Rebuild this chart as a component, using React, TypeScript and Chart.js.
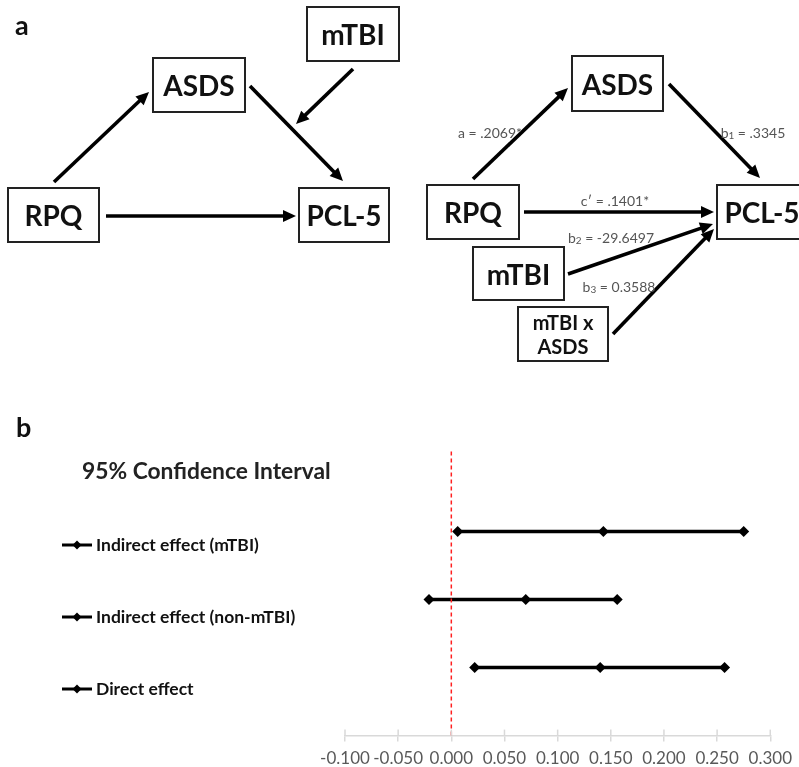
import React, { useEffect, useRef } from 'react';
import { Chart, registerables } from 'chart.js';

Chart.register(...registerables);

// ---- Panel b data ----
const categories = ['Indirect effect (mTBI)', 'Indirect effect (non-mTBI)', 'Direct effect'];
const rowPositions = [3, 2, 1];
const lowerCI = [0.006, -0.021, 0.022];
const pointEstimate = [0.143, 0.07, 0.14];
const upperCI = [0.275, 0.156, 0.257];
const xTicks = [-0.1, -0.05, 0, 0.05, 0.1, 0.15, 0.2, 0.25, 0.3];
const referenceX = 0;
const chartTitle = '95% Confidence Interval';

// ---- Panel a text ----
const pathLabels = ['a = .2069*', ' = .3345', 'c\u2032 = .1401*', ' = -29.6497', ' = 0.3588'];

const FONT = 'Lato, "Open Sans", "DejaVu Sans", sans-serif';

type Pt = [number, number];

function Arrow({ from, to }: { from: Pt; to: Pt }) {
  const dx = to[0] - from[0];
  const dy = to[1] - from[1];
  const len = Math.hypot(dx, dy);
  const ux = dx / len;
  const uy = dy / len;
  const head = 13;
  const half = 6;
  const bx = to[0] - ux * head;
  const by = to[1] - uy * head;
  const px = -uy;
  const py = ux;
  const pts = `${to[0]},${to[1]} ${bx + px * half},${by + py * half} ${bx - px * half},${by - py * half}`;
  return (
    <g>
      <line x1={from[0]} y1={from[1]} x2={bx + ux * 2} y2={by + uy * 2} stroke="#000" strokeWidth={3.6} />
      <polygon points={pts} fill="#000" />
    </g>
  );
}

function Box({ x, y, w, h, lines, size }: { x: number; y: number; w: number; h: number; lines: string[]; size: number }) {
  const cx = x + w / 2;
  const cy = y + h / 2;
  const lh = size * 1.2;
  return (
    <g>
      <rect x={x} y={y} width={w} height={h} fill="#fff" stroke="#222" strokeWidth={2} />
      {lines.map((t, i) => (
        <text
          key={i}
          x={cx}
          y={cy + (i - (lines.length - 1) / 2) * lh}
          textAnchor="middle"
          dominantBaseline="central"
          fontFamily={FONT}
          fontWeight="bold"
          fontSize={size}
          fill="#111"
        >
          {t}
        </text>
      ))}
    </g>
  );
}

function Label({ x, y, main, sub }: { x: number; y: number; main: string; sub?: string }) {
  return (
    <text x={x} y={y} textAnchor="middle" dominantBaseline="central" fontFamily={FONT} fontSize={14} fill="#555">
      {sub ? (
        <>
          <tspan>b</tspan>
          <tspan dy={3} fontSize={10}>{sub}</tspan>
          <tspan dy={-3}>{main}</tspan>
        </>
      ) : (
        main
      )}
    </text>
  );
}

function Diagram() {
  return (
    <svg width={799} height={767} style={{ position: 'absolute', left: 0, top: 0, pointerEvents: 'none' }}>
      <text x={15} y={35} fontFamily={FONT} fontWeight="bold" fontSize={27} fill="#111">a</text>
      <text x={16} y={437} fontFamily={FONT} fontWeight="bold" fontSize={27} fill="#111">b</text>

      {/* left diagram */}
      <Box x={307} y={7} w={92} h={54} lines={['mTBI']} size={28} />
      <Box x={153} y={58} w={92} h={54} lines={['ASDS']} size={28} />
      <Box x={8} y={188} w={91} h={54} lines={['RPQ']} size={28} />
      <Box x={299} y={188} w={90} h={54} lines={['PCL-5']} size={28} />
      <Arrow from={[54, 182]} to={[149, 92]} />
      <Arrow from={[250, 86]} to={[343, 181]} />
      <Arrow from={[353, 69]} to={[296, 124]} />
      <Arrow from={[106, 216]} to={[296, 216]} />

      {/* right diagram */}
      <Box x={572} y={56} w={91} h={55} lines={['ASDS']} size={28} />
      <Box x={427} y={185} w={92} h={54} lines={['RPQ']} size={28} />
      <Box x={717} y={185} w={90} h={54} lines={['PCL-5']} size={28} />
      <Box x={473} y={247} w={91} h={53} lines={['mTBI']} size={28} />
      <Box x={518} y={307} w={90} h={54} lines={['mTBI x', 'ASDS']} size={20} />
      <Arrow from={[473, 179]} to={[568, 88]} />
      <Arrow from={[669, 84]} to={[760, 178]} />
      <Arrow from={[524, 212]} to={[714, 212]} />
      <Arrow from={[568, 274]} to={[713, 224]} />
      <Arrow from={[613, 334]} to={[714, 229]} />

      <Label x={490} y={132} main={pathLabels[0]} />
      <Label x={753} y={132} main={pathLabels[1]} sub="1" />
      <Label x={615} y={200} main={pathLabels[2]} />
      <Label x={611} y={237} main={pathLabels[3]} sub="2" />
      <Label x={619} y={286} main={pathLabels[4]} sub="3" />
    </svg>
  );
}

const decorPlugin = {
  id: 'decor',
  afterDraw(chart: any) {
    const { ctx, chartArea } = chart;
    const xs = chart.scales.x;
    ctx.save();
    // upper half of tick marks crossing the axis line
    ctx.strokeStyle = '#d9d9d9';
    ctx.lineWidth = 1.5;
    xs.ticks.forEach((t: any) => {
      const px = xs.getPixelForValue(t.value);
      ctx.beginPath();
      ctx.moveTo(px, chartArea.bottom - 6);
      ctx.lineTo(px, chartArea.bottom);
      ctx.stroke();
    });
    // title
    ctx.fillStyle = '#222';
    ctx.font = `bold 22.8px ${FONT}`;
    ctx.textBaseline = 'middle';
    ctx.textAlign = 'left';
    ctx.fillText(chartTitle, 82, 472);
    // legend
    const datasets = chart.data.datasets.filter((d: any) => d.isSeries);
    datasets.forEach((d: any, i: number) => {
      const y = 545 + i * 72;
      ctx.strokeStyle = '#000';
      ctx.lineWidth = 3;
      ctx.beginPath();
      ctx.moveTo(62, y);
      ctx.lineTo(92, y);
      ctx.stroke();
      ctx.fillStyle = '#000';
      ctx.beginPath();
      ctx.moveTo(77, y - 4.5);
      ctx.lineTo(81.5, y);
      ctx.lineTo(77, y + 4.5);
      ctx.lineTo(72.5, y);
      ctx.closePath();
      ctx.fill();
      ctx.fillStyle = '#111';
      ctx.font = `bold 17.5px ${FONT}`;
      ctx.fillText(d.label, 96, y);
    });
    ctx.restore();
  },
};

function CIChart() {
  const ref = useRef<HTMLCanvasElement>(null);
  useEffect(() => {
    if (!ref.current) return;
    const series = categories.map((label, i) => ({
      label,
      isSeries: true,
      data: [
        { x: lowerCI[i], y: rowPositions[i] },
        { x: pointEstimate[i], y: rowPositions[i] },
        { x: upperCI[i], y: rowPositions[i] },
      ],
      showLine: true,
      borderColor: '#000',
      borderWidth: 3.5,
      pointStyle: 'rectRot',
      pointRadius: 5.5,
      pointBackgroundColor: '#000',
      pointBorderColor: '#000',
      pointBorderWidth: 0,
    }));
    const refLine = {
      label: 'zero',
      isSeries: false,
      data: [
        { x: referenceX, y: 0 },
        { x: referenceX, y: 4.2 },
      ],
      showLine: true,
      borderColor: '#ff2020',
      borderWidth: 1.5,
      borderDash: [4, 3],
      pointRadius: 0,
    };
    const chart = new Chart(ref.current, {
      type: 'scatter',
      data: { datasets: [refLine, ...series] as any },
      options: {
        animation: false,
        responsive: true,
        maintainAspectRatio: false,
        layout: { padding: { left: 345, right: 27, top: 450, bottom: 0 } },
        plugins: { legend: { display: false }, tooltip: { enabled: false }, title: { display: false } },
        scales: {
          x: {
            type: 'linear',
            min: -0.1,
            max: 0.3,
            afterBuildTicks: (axis: any) => {
              axis.ticks = xTicks.map((v) => ({ value: v }));
            },
            ticks: {
              autoSkip: false,
              maxRotation: 0,
              padding: 7,
              color: '#595959',
              font: { family: FONT, size: 17 },
              callback: (v: any) => Number(v).toFixed(3),
            },
            grid: { display: true, drawOnChartArea: false, drawTicks: true, tickLength: 6, color: '#d9d9d9', lineWidth: 1.5 },
            border: { display: true, color: '#d9d9d9', width: 1.5 },
          },
          y: { display: false, min: 0, max: 4.2 },
        },
      },
      plugins: [decorPlugin],
    });
    return () => chart.destroy();
  }, []);
  return (
    <div style={{ position: 'absolute', left: 0, top: 0, width: 799, height: 776 }}>
      <canvas ref={ref} />
    </div>
  );
}

export default function App() {
  return (
    <div style={{ position: 'absolute', left: 0, top: 0, width: 799, height: 767, background: '#fff', overflow: 'hidden' }}>
      <CIChart />
      <Diagram />
    </div>
  );
}
